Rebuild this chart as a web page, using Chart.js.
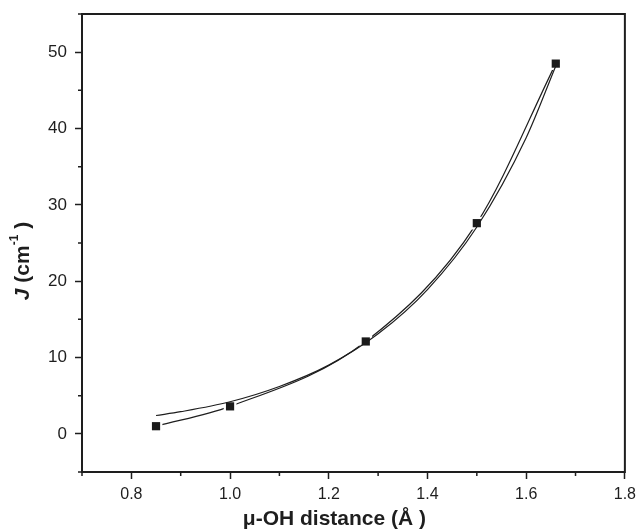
<!DOCTYPE html>
<html>
<head>
<meta charset="utf-8">
<script src="https://cdn.jsdelivr.net/npm/chart.js@4/dist/chart.umd.min.js"></script>
<style>
  html, body { margin: 0; padding: 0; background: #fff; }
  #wrap { width: 642px; height: 531px; }
</style>
</head>
<body>
<div id="wrap"><canvas id="c" width="642" height="531"></canvas></div>
<script>
// measured points (mu-OH distance vs J)
var distance = [0.85, 1.0, 1.275, 1.5, 1.66];
var jValues = [1.0, 3.6, 12.1, 27.6, 48.5];

// fitted curve
var fitX = [0.85, 0.9, 1.0, 1.1, 1.2, 1.3, 1.4, 1.5, 1.6, 1.66];
var fitY = [2.4, 2.9, 4.2, 6.2, 9.0, 13.1, 18.9, 27.1, 38.8, 48.2];

// axis ticks
var xMajor = [0.8, 1.0, 1.2, 1.4, 1.6, 1.8];
var xMinor = [0.7, 0.9, 1.1, 1.3, 1.5, 1.7];
var yMajor = [0, 10, 20, 30, 40, 50];
var yMinor = [-5, 5, 15, 25, 35, 45, 55];

var ink = '#1e1e1e';
var fontFamily = '"Liberation Sans", Arial, sans-serif';

function pts(xs, ys) {
    return xs.map(function (x, i) { return {x: x, y: ys[i]}; });
}

// frame + minor ticks + axis titles
var decor = {
    id: 'decor',
    afterDraw: function (chart) {
        var ctx = chart.ctx;
        var a = chart.chartArea;
        var xs = chart.scales.x, ys = chart.scales.y;
        ctx.save();
        ctx.strokeStyle = ink;
        ctx.lineWidth = 2;
        ctx.strokeRect(a.left, a.top, a.right - a.left, a.bottom - a.top);

        ctx.lineWidth = 1.5;
        ctx.beginPath();
        xMinor.forEach(function (v) {
            var px = xs.getPixelForValue(v);
            ctx.moveTo(px, a.bottom);
            ctx.lineTo(px, a.bottom + 4);
        });
        yMinor.forEach(function (v) {
            var py = ys.getPixelForValue(v);
            ctx.moveTo(a.left, py);
            ctx.lineTo(a.left - 4, py);
        });
        ctx.stroke();

        ctx.fillStyle = ink;
        ctx.textBaseline = 'middle';

        // x title
        ctx.font = 'bold 21px ' + fontFamily;
        ctx.textAlign = 'center';
        ctx.fillText('\u03bc-OH distance (\u00c5 )', (a.left + a.right) / 2 - 19, a.bottom + 47);

        // y title, rotated, italic J
        ctx.translate(a.left - 59, (a.top + a.bottom) / 2 + 18);
        ctx.rotate(-Math.PI / 2);
        var parts = [
            {t: 'J', f: 'italic bold 21px ' + fontFamily, dy: 0},
            {t: ' (cm', f: 'bold 21px ' + fontFamily, dy: 0},
            {t: '-1', f: 'bold 12px ' + fontFamily, dy: -8},
            {t: ' )', f: 'bold 21px ' + fontFamily, dy: 0}
        ];
        var total = 0;
        parts.forEach(function (p) { ctx.font = p.f; total += ctx.measureText(p.t).width; });
        var cx = -total / 2;
        ctx.textAlign = 'left';
        parts.forEach(function (p) {
            ctx.font = p.f;
            ctx.fillText(p.t, cx, p.dy);
            cx += ctx.measureText(p.t).width;
        });
        ctx.restore();
    }
};

var ctx = document.getElementById('c').getContext('2d');
new Chart(ctx, {
    type: 'scatter',
    data: {
        datasets: [
            {   // markers on top
                data: pts(distance, jValues),
                showLine: false,
                pointStyle: 'rect',
                pointRadius: 5.8,
                pointBackgroundColor: '#1a1a1a',
                pointBorderWidth: 0,
                order: 0
            },
            {   // fit curve
                data: pts(fitX, fitY),
                showLine: true,
                borderColor: ink,
                borderWidth: 1.2,
                cubicInterpolationMode: 'monotone',
                pointRadius: 0,
                order: 1
            },
            {   // connecting spline, gapped at the markers
                data: pts(distance, jValues),
                showLine: true,
                borderColor: ink,
                borderWidth: 1.2,
                cubicInterpolationMode: 'monotone',
                pointStyle: 'rect',
                pointRadius: 9,
                pointBackgroundColor: '#fff',
                pointBorderWidth: 0,
                order: 2
            }
        ]
    },
    options: {
        responsive: false,
        animation: false,
        events: [],
        layout: {padding: {top: 14, right: 15, left: 0, bottom: 0}},
        plugins: {legend: {display: false}, tooltip: {enabled: false}},
        scales: {
            x: {
                type: 'linear',
                min: 0.7, max: 1.8,
                afterBuildTicks: function (s) { s.ticks = xMajor.map(function (v) { return {value: v}; }); },
                afterFit: function (s) { s.height = 59; },
                border: {display: false},
                grid: {drawOnChartArea: false, tickLength: 7, tickWidth: 1.5, tickColor: ink},
                ticks: {
                    color: ink, padding: 6, maxRotation: 0,
                    font: {family: fontFamily, size: 16},
                    callback: function (v) { return v.toFixed(1); }
                }
            },
            y: {
                type: 'linear',
                min: -5, max: 55,
                afterBuildTicks: function (s) { s.ticks = yMajor.map(function (v) { return {value: v}; }); },
                afterFit: function (s) {
                    s.width = 82;
                    s.paddingTop = 0;
                    s.paddingBottom = 0;
                },
                border: {display: false},
                grid: {drawOnChartArea: false, tickLength: 7, tickWidth: 1.5, tickColor: ink},
                ticks: {
                    color: ink, padding: 8,
                    font: {family: fontFamily, size: 17}
                }
            }
        }
    },
    plugins: [decor]
});
</script>
</body>
</html>
